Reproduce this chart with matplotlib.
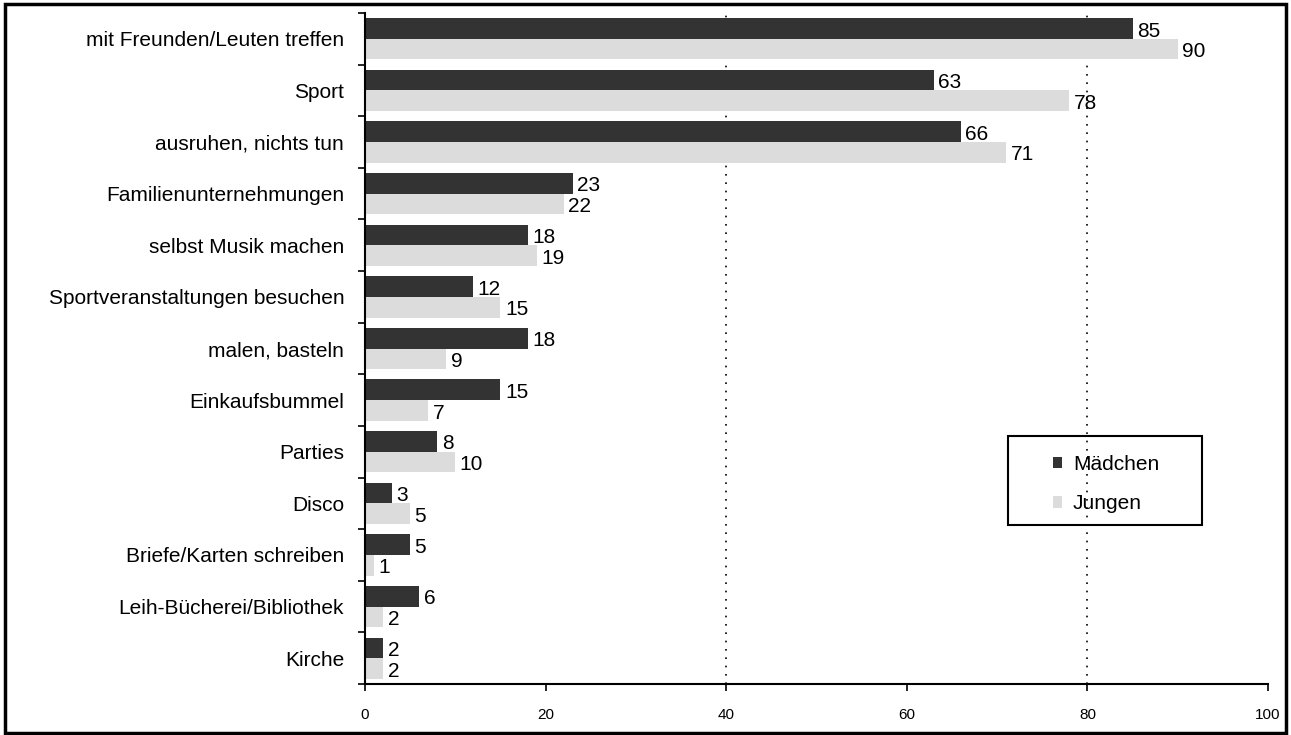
import matplotlib.pyplot as plt
import numpy as np
from matplotlib.patches import Rectangle
from matplotlib.ticker import FixedLocator

plt.rcParams['font.family'] = ['Liberation Sans', 'DejaVu Sans']

kategorien = ["mit Freunden/Leuten treffen", "Sport", "ausruhen, nichts tun",
              "Familienunternehmungen", "selbst Musik machen",
              "Sportveranstaltungen besuchen", "malen, basteln", "Einkaufsbummel",
              "Parties", "Disco", "Briefe/Karten schreiben",
              "Leih-Bücherei/Bibliothek", "Kirche"]
maedchen = [85, 63, 66, 23, 18, 12, 18, 15, 8, 3, 5, 6, 2]
jungen = [90, 78, 71, 22, 19, 15, 9, 7, 10, 5, 1, 2, 2]

dunkel = "#333333"
hell = "#dcdcdc"

fig = plt.figure(figsize=(12.91, 7.35), dpi=100)
ax = fig.add_axes([0.2827, 0.0694, 0.6995, 0.9129])

y = np.arange(len(kategorien))
h = 0.4
b1 = ax.barh(y - h / 2, maedchen, height=h, color=dunkel, label="Mädchen")
b2 = ax.barh(y + h / 2, jungen, height=h, color=hell, label="Jungen")

for bars, vals in ((b1, maedchen), (b2, jungen)):
    for bar, v in zip(bars, vals):
        ax.text(bar.get_width() + 0.5, bar.get_y() + bar.get_height() / 2 + 0.05,
                str(v), va="center", ha="left", fontsize=15)

ax.set_ylim(len(kategorien) - 0.5, -0.5)
ax.set_xlim(0, 100)
ax.set_yticks(y)
ax.set_yticklabels(kategorien, fontsize=15)
ax.tick_params(axis="y", which="major", length=0, pad=15)
ax.yaxis.set_minor_locator(FixedLocator(np.arange(-0.5, len(kategorien), 1)))
ax.tick_params(axis="y", which="minor", length=5, width=1.2, direction="out")
ax.set_xticks([0, 20, 40, 60, 80, 100])
ax.tick_params(axis="x", length=5, width=1.2, labelsize=11, pad=12)

for gx in (40, 80):
    ax.axvline(gx, color="black", linestyle=(0, (1, 4)), linewidth=1.2, zorder=0)

for s in ("top", "right"):
    ax.spines[s].set_visible(False)
for s in ("left", "bottom"):
    ax.spines[s].set_linewidth(1.5)

# Legende ohne eigenen Rahmen, Rahmen separat wie im Original
ax.legend(loc="center left", bbox_to_anchor=(0.762, 0.298), fontsize=15,
          frameon=False, handlelength=0.45, handleheight=0.45, borderpad=0,
          labelspacing=1.0, borderaxespad=0, handletextpad=0.5)
ax.add_patch(Rectangle((0.712, 0.237), 0.215, 0.1326, transform=ax.transAxes,
                       fill=False, edgecolor="black", linewidth=1.5, zorder=5))

fig.patches.append(Rectangle((0.004, 0.003), 0.992, 0.991, transform=fig.transFigure,
                             fill=False, edgecolor="black", linewidth=2.5))

fig.savefig("out.png", dpi=100)
